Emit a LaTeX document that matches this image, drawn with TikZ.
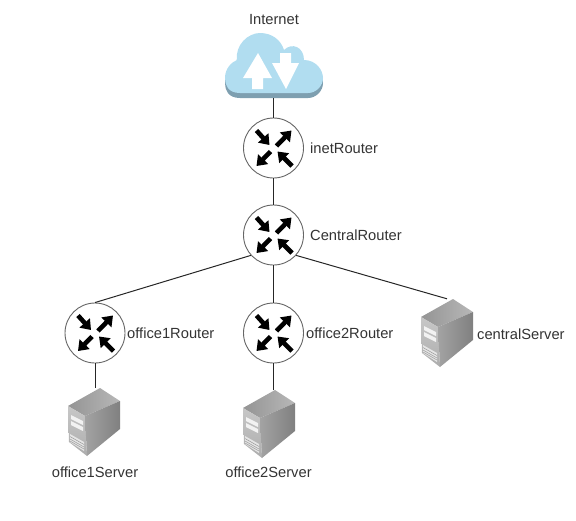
\documentclass[tikz,border=0pt]{standalone}
\usepackage{fontspec}
\setmainfont{Liberation Sans}
\usetikzlibrary{arrows.meta}
\definecolor{cloudblue}{HTML}{B1DDF0}
\definecolor{cloudshadow}{HTML}{7E9FB0}
\tikzset{
  x=1pt,y=-1pt,
  router/.style={circle,draw=black!60,line width=0.9pt,fill=white,minimum size=60pt,inner sep=0pt},
  lbl/.style={inner sep=0pt,font=\fontsize{14.7}{17}\selectfont,text=black!80},
  link/.style={draw=black!85,line width=1pt},
  holder/.style={inner sep=0pt,minimum width=52pt,minimum height=68pt},
  cloudholder/.style={inner sep=0pt,minimum width=98pt,minimum height=65pt},
  rarrow/.style={line width=4.6pt,black,-{Triangle[length=9.5pt,width=13.5pt]}},
}
\newcommand{\cloudpath}{(240,93) .. controls (228,93) and (225,85) .. (225,78)
  .. controls (225,68) and (232,62) .. (237,60)
  .. controls (235,45) and (248,33) .. (260,33)
  .. controls (272,33) and (281,40) .. (284,50)
  .. controls (292,42) and (304,47) .. (304,60)
  .. controls (316,60) and (323,70) .. (323,78)
  .. controls (323,86) and (316,93) .. (308,93) -- cycle}
\newcommand{\routerarrows}[1]{%
  \begin{scope}[shift={(#1)}]
    \draw[rarrow] (-17,-17.5) -- (-4,-3);
    \draw[rarrow] (3,-2) -- (18,-17.5);
    \draw[rarrow] (-3,3.5) -- (-17,18);
    \draw[rarrow] (18.5,18) -- (4,3.5);
  \end{scope}}
\newcommand{\serverbody}[1]{%
  \begin{scope}[shift={(#1)}]
    \shade[left color=black!42,right color=black!28] (6,-34) -- (-26,-16) -- (-9,-6) -- (26,-21) -- cycle;
    \shade[top color=black!22,bottom color=black!32] (-26,-16) -- (-9,-6) -- (-7,34) -- (-25,20) -- cycle;
    \shade[left color=black!36,right color=black!50] (-9,-6) -- (26,-21) -- (26,7) -- (-7,34) -- cycle;
    \fill[white!95!black] (-23,-7) -- (-11,-1) -- (-11,3) -- (-23,-3) -- cycle;
    \fill[white!95!black] (-23,-1) -- (-11,5) -- (-11,9) -- (-23,3) -- cycle;
    \fill[black!10] (-24,12) -- (-10,20) -- (-10,29) -- (-24,20) -- cycle;
    \draw[black!40,line width=0.5pt] (-24,14.5) -- (-10,22.5) (-24,17) -- (-10,25) (-24,19) -- (-10,27);
  \end{scope}}
\begin{document}
\begin{tikzpicture}
\useasboundingbox (0,0) rectangle (576,520);
% cloud
\node[cloudholder] (cloud) at (273.5,65.5) {};
\begin{scope}[yshift=-5pt]
\fill[cloudshadow] \cloudpath;
\end{scope}
\fill[cloudblue] \cloudpath;
\fill[white] (258,53) -- (272,78) -- (263,78) -- (263,89) -- (252,89) -- (252,78) -- (243,78) -- cycle;
\fill[white] (280,53) -- (291,53) -- (291,63) -- (299,63) -- (286,89) -- (272,63) -- (280,63) -- cycle;
\node[lbl] (internet) at (274,20) {Internet};
% routers
\node[router] (inet) at (273.5,148) {};
\node[router] (central) at (273.5,235) {};
\node[router] (office1) at (95,333) {};
\node[router] (office2) at (273.5,333) {};
\routerarrows{inet}
\routerarrows{central}
\routerarrows{office1}
\routerarrows{office2}
\node[lbl,anchor=west] (inetl) at (310,148) {inetRouter};
\node[lbl,anchor=west] (centrall) at (310,235) {CentralRouter};
\node[lbl,anchor=west] (office1l) at (127,333) {office1Router};
\node[lbl,anchor=west] (office2l) at (306,333) {office2Router};
% servers
\node[holder] (s1) at (94,422) {};
\node[holder] (s2) at (269,424) {};
\node[holder] (s3) at (447,333) {};
\serverbody{s1}
\serverbody{s2}
\serverbody{s3}
\node[lbl] (s1l) at (95,472) {office1Server};
\node[lbl] (s2l) at (268.5,472) {office2Server};
\node[lbl,anchor=west] (s3l) at (477,334) {centralServer};
% links
\draw[link] (cloud.south) -- (inet.north);
\draw[link] (inet.south) -- (central.north);
\draw[link] (central.south) -- (office2.north);
\draw[link] (central.222) -- (office1.north);
\draw[link] (central.318) -- (s3.north);
\draw[link] (office1.south) -- (office1.south |- s1.north);
\draw[link] (office2.south) -- (office2.south |- s2.north);
\end{tikzpicture}
\end{document}
